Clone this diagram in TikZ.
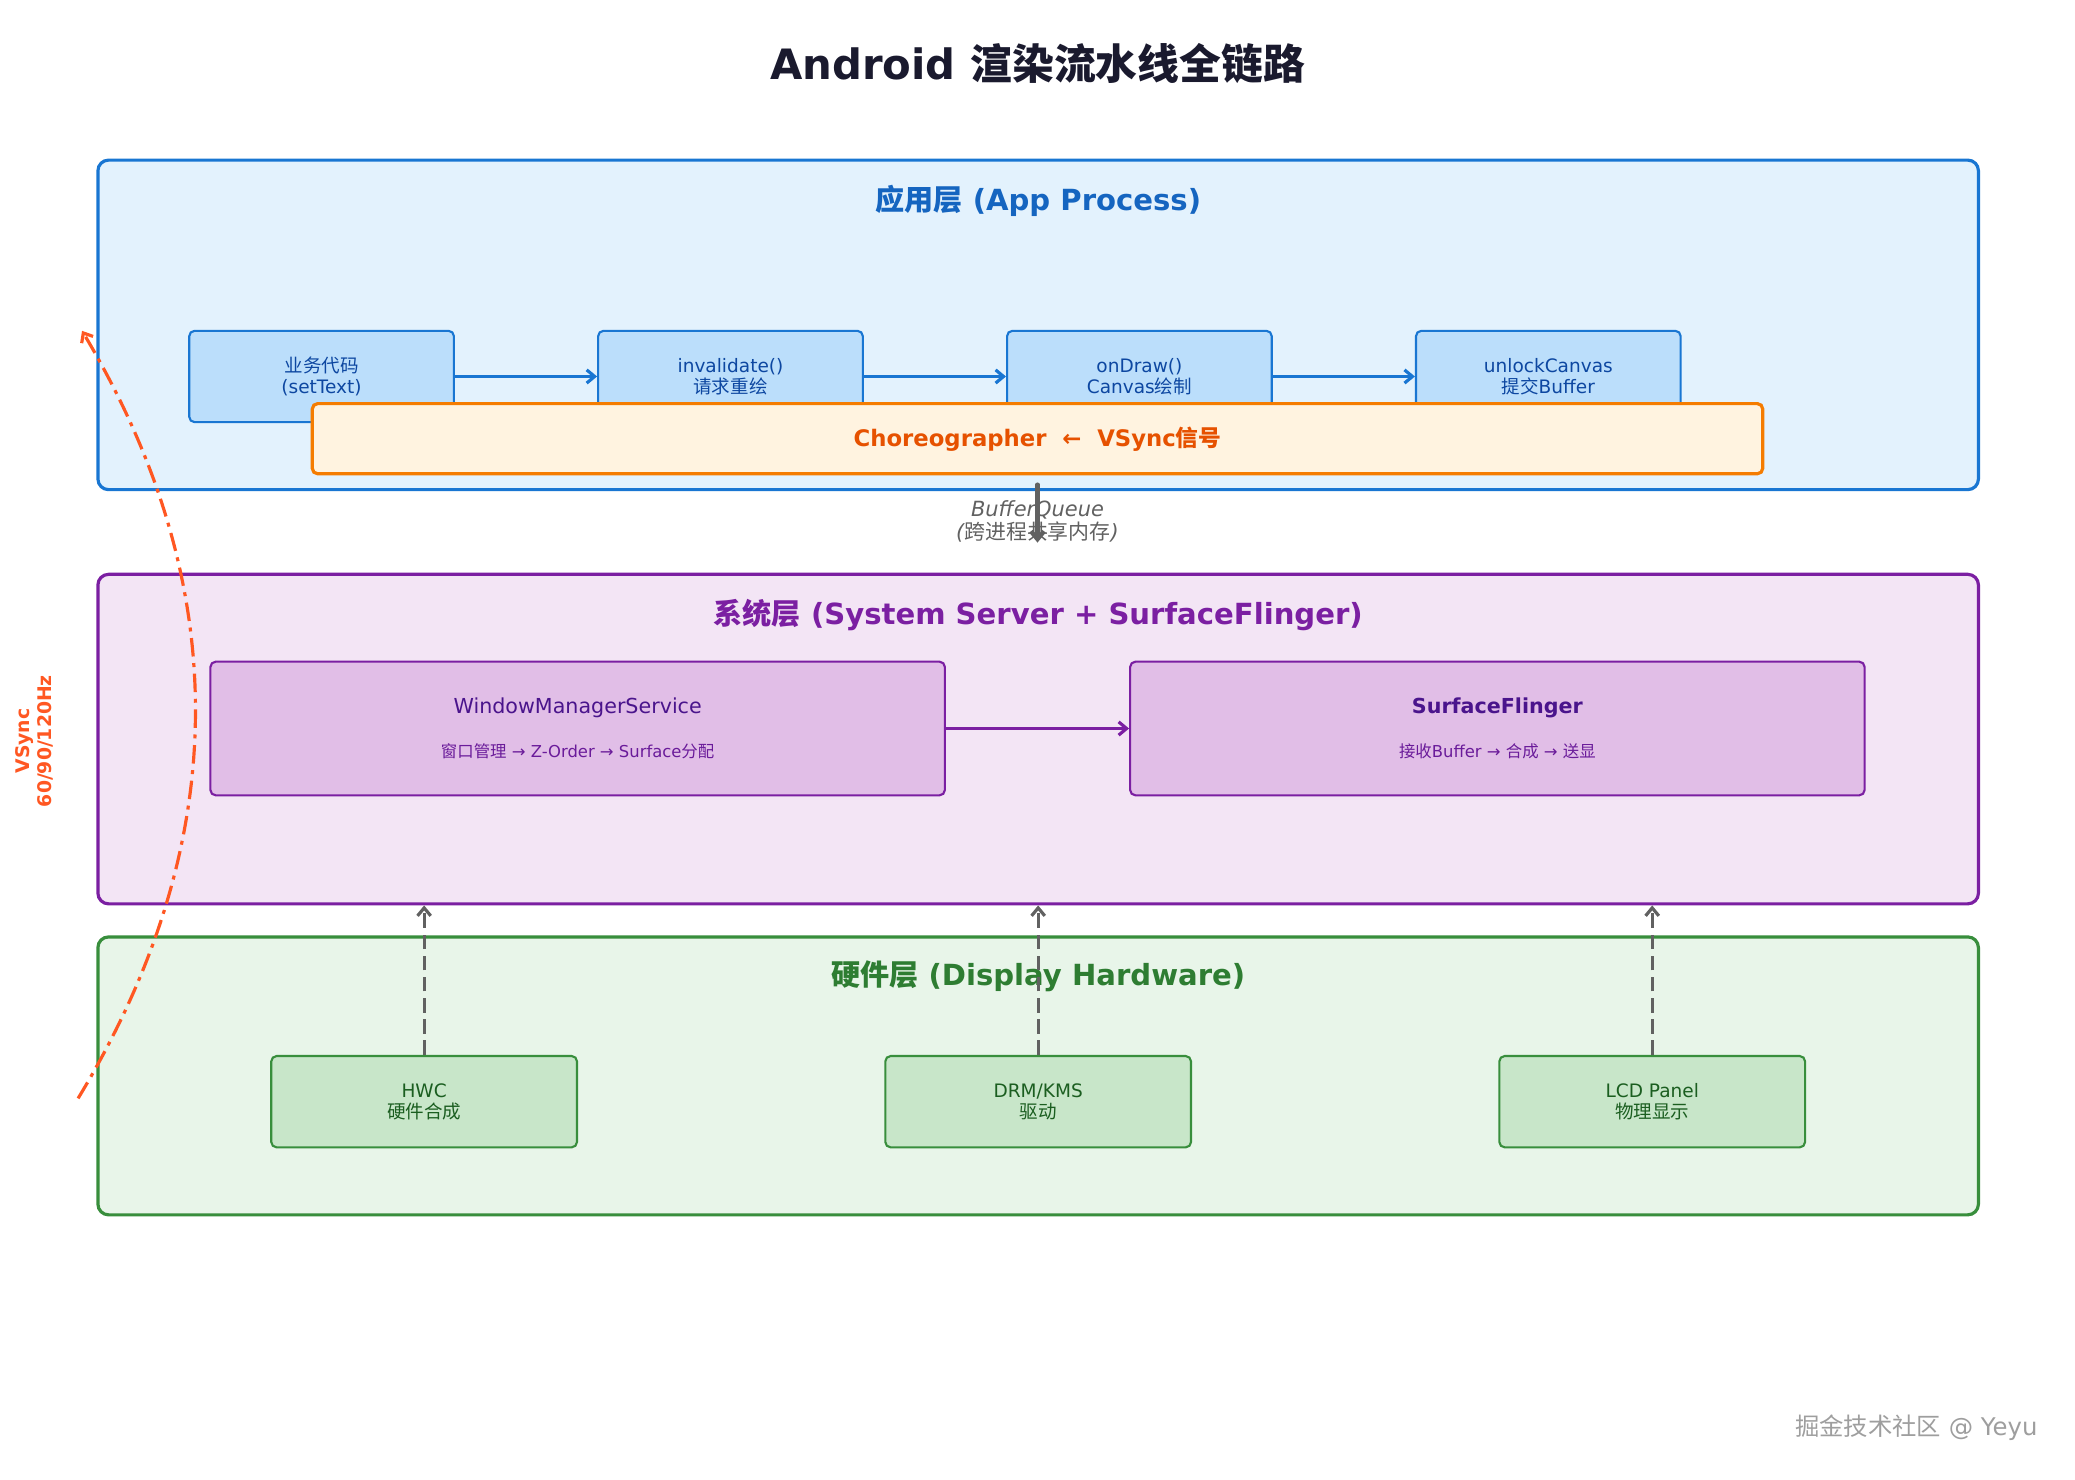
\documentclass[tikz,border=0pt]{standalone}
\usepackage{fontspec}
\setmainfont{DejaVu Sans}
\newfontfamily\cjk{Noto Sans CJK SC}
\newcommand{\zh}[1]{{\cjk #1}}
\usetikzlibrary{arrows.meta, positioning}
\definecolor{titlecol}{HTML}{1A1A2E}
\definecolor{appline}{HTML}{1976D2}
\definecolor{appfill}{HTML}{E3F2FD}
\definecolor{appbox}{HTML}{BBDEFB}
\definecolor{apptext}{HTML}{0D47A1}
\definecolor{apptitle}{HTML}{1565C0}
\definecolor{choline}{HTML}{F57C00}
\definecolor{chofill}{HTML}{FFF3E0}
\definecolor{chotext}{HTML}{E65100}
\definecolor{sysline}{HTML}{7B1FA2}
\definecolor{sysfill}{HTML}{F3E5F5}
\definecolor{sysbox}{HTML}{E1BEE7}
\definecolor{systext}{HTML}{4A148C}
\definecolor{syssub}{HTML}{6A1B9A}
\definecolor{hwline}{HTML}{388E3C}
\definecolor{hwfill}{HTML}{E8F5E9}
\definecolor{hwbox}{HTML}{C8E6C9}
\definecolor{hwtext}{HTML}{1B5E20}
\definecolor{hwtitle}{HTML}{2E7D32}
\definecolor{linkgray}{HTML}{616161}
\definecolor{vsynccol}{HTML}{FF5722}
\definecolor{markgray}{HTML}{9E9E9E}
\tikzset{layer/.style={rectangle,rounded corners=4pt,line width=1.2pt,minimum width=710.5pt,inner sep=0pt},laytitle/.style={font=\fontsize{11}{13}\selectfont\bfseries},appstep/.style={rectangle,draw=appline,fill=appbox,rounded corners=2pt,line width=0.8pt,minimum width=100pt,minimum height=34.5pt,align=center,text=apptext,font=\fontsize{7}{8}\selectfont},sysstep/.style={rectangle,draw=sysline,fill=sysbox,rounded corners=2pt,line width=0.8pt,minimum width=277.5pt,minimum height=50.5pt,align=center,text=systext},hwstep/.style={rectangle,draw=hwline,fill=hwbox,rounded corners=2pt,line width=0.8pt,minimum width=115.5pt,minimum height=34.5pt,align=center,text=hwtext,font=\fontsize{7}{8}\selectfont},line/.style={-{Straight Barb[length=3pt,width=5pt]},line width=1.2pt},uplink/.style={line,draw=linkgray,dash pattern=on 5.5pt off 2.5pt}}

\begin{document}
\begin{tikzpicture}[x=0.5pt,y=-0.5pt]
\useasboundingbox (0,0) rectangle (1568,1118);
\node[text=titlecol,font=\fontsize{15.8}{19}\selectfont\bfseries] (title) at (784,48) {Android \zh{渲染流水线全链路}};
% app process
\node[layer,draw=appline,fill=appfill,minimum height=124.5pt] (app) at (784.5,245.5) {};
\node[laytitle,text=apptitle] (apptl) at ([yshift=-16pt]app.north) {\zh{应用层} (App Process)};
\node[appstep] (biz) at (243,284.5) {\zh{业务代码}\\(setText)};
\node[appstep, right=53.7pt of biz] (inv) {invalidate()\\\zh{请求重绘}};
\node[appstep, right=53.7pt of inv] (ondraw) {onDraw()\\Canvas\zh{绘制}};
\node[appstep, right=53.7pt of ondraw] (unlock) {unlockCanvas\\\zh{提交}Buffer};
\node[rectangle,draw=choline,fill=chofill,rounded corners=2pt,line width=1.2pt,minimum width=548pt,minimum height=26.5pt,text=chotext,font=\fontsize{8.6}{10}\selectfont\bfseries] (chor) at (784,331.5) {Choreographer~~←~~VSync\zh{信号}};
\draw[line,draw=appline] (biz) -- (inv);
\draw[line,draw=appline] (inv) -- (ondraw);
\draw[line,draw=appline] (ondraw) -- (unlock);
% system server
\node[layer,draw=sysline,fill=sysfill,minimum height=124.5pt,below=30.8pt of app] (sys) {};
\node[laytitle,text=sysline] (systl) at ([yshift=-16pt]sys.north) {\zh{系统层} (System Server + SurfaceFlinger)};
\node[sysstep] (wms) at (436.5,550.5) {{\fontsize{7.8}{9}\selectfont WindowManagerService}\\[4.5pt]{\fontsize{6.2}{7}\selectfont\color{syssub}\zh{窗口管理} → Z-Order → Surface\zh{分配}}};
\node[sysstep, right=69.2pt of wms] (sf) {{\fontsize{7.8}{9}\selectfont\bfseries SurfaceFlinger}\\[4.5pt]{\fontsize{6.2}{7}\selectfont\color{syssub}\zh{接收}Buffer → \zh{合成} → \zh{送显}}};
\draw[line,draw=sysline] (wms) -- (sf);
% buffer queue
\node[align=center,text=linkgray,font=\fontsize{7.9}{8.8}\selectfont\itshape] (bq) at (784,394) {BufferQueue\\(\zh{跨进程共享内存})};
\coordinate (bqend) at (784,410);
\draw[line,draw=linkgray,line width=1.6pt,line cap=round] ([yshift=-3.5pt]chor.south) -- (bqend);
% display hardware
\node[layer,draw=hwline,fill=hwfill,minimum height=105pt,below=11.3pt of sys] (hw) {};
\node[laytitle,text=hwtitle] (hwtl) at ([yshift=-15.5pt]hw.north) {\zh{硬件层} (Display Hardware)};
\node[hwstep] (hwc) at (320.5,832.5) {HWC\\\zh{硬件合成}};
\node[hwstep, right=115.7pt of hwc] (drm) {DRM/KMS\\\zh{驱动}};
\node[hwstep, right=115.7pt of drm] (lcd) {LCD Panel\\\zh{物理显示}};
\foreach \n in {hwc,drm,lcd}
  \draw[uplink] (\n.north) -- (\n.north |- sys.south);
% vsync
\coordinate (vsA) at (59,830);
\coordinate (vsB) at (62,250);
\draw[line,draw=vsynccol,dash pattern=on 7pt off 2.5pt on 1.5pt off 2.5pt] (vsA) .. controls (176,637) and (177,443) .. (vsB);
\node[rotate=90,align=center,text=vsynccol,font=\fontsize{7.1}{8}\selectfont\bfseries] (vslab) at (26,560) {VSync\\60/90/120Hz};
\node[anchor=east,inner sep=0pt,text=markgray,font=\fontsize{9.2}{11}\selectfont] (mark) at (1540,1079) {\zh{掘金技术社区} @ Yeyu};
\end{tikzpicture}
\end{document}
